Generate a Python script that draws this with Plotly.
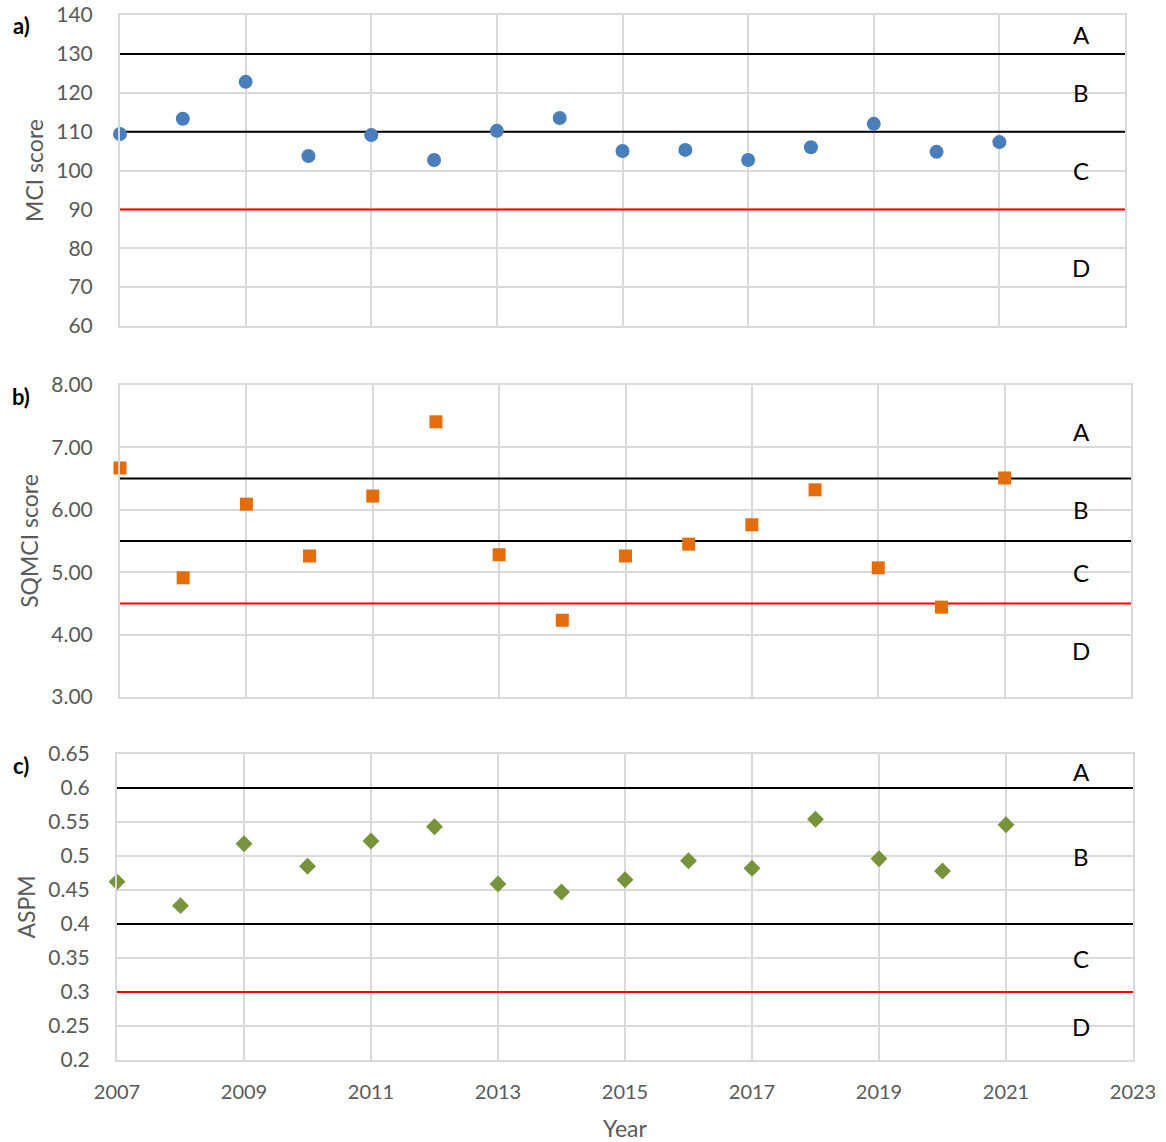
import plotly.graph_objects as go

years = list(range(2007, 2022))
mci = [109.4, 113.3, 122.8, 103.7, 109.1, 102.7, 110.2, 113.5, 105.0, 105.3, 102.7, 106.0, 112.0, 104.8, 107.3]
sqmci = [6.67, 4.91, 6.09, 5.26, 6.22, 7.41, 5.28, 4.23, 5.26, 5.45, 5.76, 6.32, 5.07, 4.44, 6.51]
aspm = [0.462, 0.427, 0.518, 0.485, 0.522, 0.543, 0.459, 0.447, 0.465, 0.493, 0.482, 0.554, 0.496, 0.478, 0.546]

# thresholds (upper black, lower black, red) and axis ranges
mci_thr = [130, 110, 90]
sqmci_thr = [6.5, 5.5, 4.5]
aspm_thr = [0.6, 0.4, 0.3]
mci_range = [60, 140]
sqmci_range = [3, 8]
aspm_range = [0.2, 0.65]
bands = ["A", "B", "C", "D"]
panel_labels = ["a)", "b)", "c)"]
x_ticks = list(range(2007, 2024, 2))

W, H = 1166, 1142
# panel pixel boxes: (x0, x1, ytop, ybottom)
boxes = [(120, 1125, 15, 326), (120, 1131, 385, 697), (117, 1133, 754, 1060)]

fig = go.Figure()
FONT = "Lato, Carlito, 'Open Sans', sans-serif"
GRID = "#d9d9d9"
TICKC = "#595959"

panels = [
    (mci, mci_thr, mci_range, dict(symbol="circle", size=14, color="#4a7ebb"), "MCI score", dict(dtick=10, tickformat="d")),
    (sqmci, sqmci_thr, sqmci_range, dict(symbol="square", size=13, color="#e46c0a"), "SQMCI score", dict(dtick=1, tickformat=".2f")),
    (aspm, aspm_thr, aspm_range, dict(symbol="diamond", size=13, color="#77933c"), "ASPM", dict(dtick=0.05)),
]

for i, (vals, thr, rng, mk, title, yopt) in enumerate(panels):
    n = "" if i == 0 else str(i + 1)
    xa, ya = "x" + n, "y" + n
    x0, x1, yt, yb = boxes[i]
    # threshold lines
    for j, t in enumerate(thr):
        fig.add_trace(go.Scatter(x=[2007, 2023], y=[t, t], mode="lines",
                                 line=dict(color="#ff0000" if j == 2 else "#000000", width=2),
                                 xaxis=xa, yaxis=ya, showlegend=False, hoverinfo="skip"))
    fig.add_trace(go.Scatter(x=years, y=vals, mode="markers", marker=dict(line=dict(width=0), **mk),
                             xaxis=xa, yaxis=ya, showlegend=False, cliponaxis=False))
    # band letters at midpoints of bands
    edges = [rng[1]] + thr + [rng[0]]
    for k, b in enumerate(bands):
        fig.add_annotation(x=1081 / W, y=(edges[k] + edges[k + 1]) / 2, text=b, showarrow=False,
                           xref="paper", yref=ya, xanchor="center", yanchor="middle",
                           font=dict(family=FONT, size=24, color="#000000"))
    fig.add_annotation(x=21 / W, y=1 - (yt + 11) / H, xref="paper", yref="paper", text="<b>" + panel_labels[i] + "</b>",
                       showarrow=False, xanchor="center", yanchor="middle",
                       font=dict(family=FONT, size=22, color="#000000"))
    xaxis = dict(domain=[x0 / W, x1 / W], range=[2007, 2023], tickvals=x_ticks, automargin=False,
                 showgrid=True, gridcolor=GRID, gridwidth=2, showline=True, linecolor=GRID, linewidth=2,
                 mirror=True, zeroline=False, ticks="", anchor=ya,
                 showticklabels=(i == 2), tickfont=dict(family=FONT, size=20, color=TICKC),
                 ticklabelstandoff=13)
    if i == 2:
        xaxis["title"] = dict(text="Year", font=dict(family=FONT, size=23, color=TICKC), standoff=20)
    yaxis = dict(domain=[1 - yb / H, 1 - yt / H], range=rng, tick0=rng[0], automargin=False,
                 showgrid=True, gridcolor=GRID, gridwidth=2, showline=True, linecolor=GRID, linewidth=2,
                 mirror=True, zeroline=False, ticks="", anchor=xa,
                 tickfont=dict(family=FONT, size=21, color=TICKC), ticklabelstandoff=21,
                 title=dict(text=title, font=dict(family=FONT, size=23, color=TICKC), standoff=6), **yopt)
    fig.layout["xaxis" + n] = xaxis
    fig.layout["yaxis" + n] = yaxis

fig.update_layout(width=W, height=H, margin=dict(l=0, r=0, t=0, b=0),
                  paper_bgcolor="white", plot_bgcolor="white", font=dict(family=FONT))
fig.write_html("out.html", config={"displayModeBar": False},
               post_script="document.body.style.margin='0px';document.body.style.overflow='hidden';")
